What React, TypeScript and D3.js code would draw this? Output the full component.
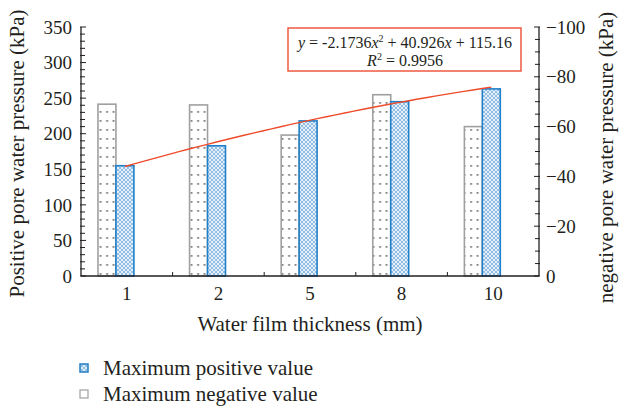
import React from 'react';
import * as d3 from 'd3';

const W = 621;
const H = 408;
const margin = { top: 27, right: 82, bottom: 132, left: 81 };

const categories = ['1', '2', '5', '8', '10'];
const positiveValues = [155, 183, 218, 245, 263];
const negativeValues = [-69, -68.7, -56.6, -72.8, -60];
const fitCoef = [-2.1736, 40.926, 115.16];
const leftTicks = [0, 50, 100, 150, 200, 250, 300, 350];
const rightTicks = [0, -20, -40, -60, -80, -100];

const FONT = '"Liberation Serif", "Times New Roman", serif';
const TXT = '#231f20';

export default function App() {
  const x0 = margin.left;
  const x1 = W - margin.right;
  const yBot = H - margin.bottom;
  const yTop = margin.top;

  const xScale = d3.scaleBand<string>().domain(categories).range([x0, x1]);
  const sub = d3.scaleBand<string>()
    .domain(['neg', 'pos', 'gap'])
    .range([0, xScale.bandwidth()])
    .paddingOuter(1.05)
    .align(0.45);
  const yLeft = d3.scaleLinear().domain([0, 350]).range([yBot, yTop]);
  const yRight = d3.scaleLinear().domain([0, -100]).range([yBot, yTop]);

  const startX = xScale(categories[0])! + sub('pos')! + sub.bandwidth() / 2;
  const fitPts = d3.range(0, 41).map(k => {
    const idx = 1 + k / 10;
    const v = fitCoef[0] * idx * idx + fitCoef[1] * idx + fitCoef[2];
    return [startX + (idx - 1) * xScale.step(), yLeft(v)] as [number, number];
  });
  const line = d3.line();

  const leftMinor = d3.range(0, 351, 10);
  const rightMinor = d3.range(0, -101, -5);

  return (
    <svg width={W} height={H} style={{ position: 'absolute', left: 0, top: 0, background: '#fff', fontFamily: FONT }}
      fill={TXT}>
      <defs>
        <pattern id="dots" width="6.5" height="9" patternUnits="userSpaceOnUse">
          <rect x="2.2" y="3" width="1.8" height="1.8" fill="#777" />
        </pattern>
        <pattern id="hatch" width="4" height="4" patternUnits="userSpaceOnUse">
          <rect width="4" height="4" fill="#e3eff9" />
          <path d="M0,0 L4,4 M4,0 L0,4" stroke="#7fb0dd" strokeWidth="0.8" />
        </pattern>
      </defs>

      {/* bars */}
      {categories.map((c, i) => {
        const bx = xScale(c)!;
        return (
          <g key={c}>
            <rect x={bx + sub('neg')!} y={yRight(negativeValues[i])} width={sub.bandwidth()}
              height={yBot - yRight(negativeValues[i])} fill="url(#dots)" stroke="#a0a0a0" strokeWidth={1.6} />
            <rect x={bx + sub('pos')!} y={yLeft(positiveValues[i])} width={sub.bandwidth()}
              height={yBot - yLeft(positiveValues[i])} fill="url(#hatch)" stroke="#1f7fc8" strokeWidth={1.6} />
          </g>
        );
      })}

      {/* trend line */}
      <path d={line(fitPts) || ''} fill="none" stroke="#ee4b2b" strokeWidth={1.4} />

      {/* equation box */}
      <rect x={288} y={28} width={233} height={43} fill="#fff" stroke="#ee5a40" strokeWidth={1.5} />
      <text x={405} y={48} textAnchor="middle" fontSize={16}>
        <tspan fontStyle="italic">y</tspan> = -2.1736<tspan fontStyle="italic">x</tspan>
        <tspan fontSize={10} dy={-6}>2</tspan>
        <tspan dy={6}> + 40.926</tspan><tspan fontStyle="italic">x</tspan> + 115.16
      </text>
      <text x={405} y={66} textAnchor="middle" fontSize={16}>
        <tspan fontStyle="italic">R</tspan><tspan fontSize={10} dy={-6}>2</tspan><tspan dy={6}> = 0.9956</tspan>
      </text>

      {/* axes */}
      <g stroke={TXT} strokeWidth={1.3} fill="none">
        <line x1={x0} x2={x0} y1={yTop} y2={yBot} />
        <line x1={x1} x2={x1} y1={yTop} y2={yBot} />
        <line x1={x0} x2={x1} y1={yBot} y2={yBot} />
        {leftMinor.map(t => (
          <line key={'l' + t} x1={x0 - 1} x2={x0 + (t % 50 === 0 ? 5 : 4)} y1={yLeft(t)} y2={yLeft(t)} strokeWidth={1} />
        ))}
        {rightMinor.map(t => (
          <line key={'r' + t} x1={x1 + 1} x2={x1 - (t % 20 === 0 ? 5 : 4)} y1={yRight(t)} y2={yRight(t)} strokeWidth={1} />
        ))}
        {categories.slice(1).map(c => (
          <line key={'x' + c} x1={xScale(c)!} x2={xScale(c)!} y1={yBot} y2={yBot - 4} strokeWidth={1} />
        ))}
      </g>

      <g fontSize={19}>
        {leftTicks.map(t => (
          <text key={t} x={x0 - 9} y={yLeft(t)} dy="0.35em" textAnchor="end">{t}</text>
        ))}
        {rightTicks.map(t => (
          <text key={t} x={x1 + 7} y={yRight(t)} dy="0.35em" textAnchor="start">{d3.format('d')(t)}</text>
        ))}
        {categories.map(c => (
          <text key={c} x={xScale(c)! + xScale.bandwidth() / 2} y={yBot + 24} textAnchor="middle">{c}</text>
        ))}
      </g>

      <g fontSize={21}>
        <text x={310} y={331} textAnchor="middle">Water film thickness (mm)</text>
        <text transform={`translate(24,${(yTop + yBot) / 2 + 2}) rotate(-90)`} textAnchor="middle">
          Positive pore water pressure (kPa)
        </text>
        <text transform={`translate(613,${(yTop + yBot) / 2 + 6}) rotate(-90)`} textAnchor="middle">
          negative pore water pressure (kPa)
        </text>
      </g>

      {/* legend */}
      <g fontSize={21}>
        <rect x={80} y={364} width={8} height={8} fill="url(#hatch)" stroke="#1f7fc8" strokeWidth={1.5} />
        <text x={103} y={375}>Maximum positive value</text>
        <rect x={80} y={390} width={8} height={8} fill="#fff" stroke="#a0a0a0" strokeWidth={1.2} />
        <text x={103} y={401}>Maximum negative value</text>
      </g>
    </svg>
  );
}
